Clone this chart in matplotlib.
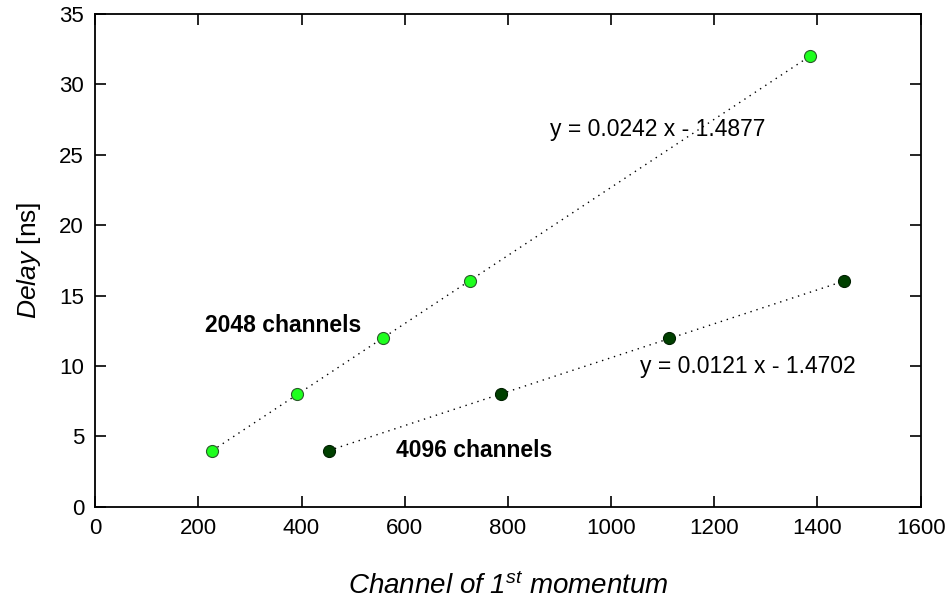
import numpy as np
import matplotlib.pyplot as plt

plt.rcParams['font.family'] = ['Liberation Sans', 'DejaVu Sans']
plt.rcParams['mathtext.fontset'] = 'custom'
plt.rcParams['mathtext.it'] = 'Liberation Sans:italic'
plt.rcParams['mathtext.rm'] = 'Liberation Sans:italic'

# Data
ch_2048 = [227, 392, 557, 726, 1385]
delay_2048 = [4, 8, 12, 16, 32]
ch_4096 = [453, 787, 1113, 1451]
delay_4096 = [4, 8, 12, 16]

fig, ax = plt.subplots(figsize=(9.52, 6.02), dpi=100)
fig.subplots_adjust(left=0.1, right=0.967, top=0.977, bottom=0.158)

# dotted linear trend lines
for xs, ys in [(ch_2048, delay_2048), (ch_4096, delay_4096)]:
    k, b = np.polyfit(xs, ys, 1)
    xl = np.array([min(xs), max(xs)])
    ax.plot(xl, k*xl + b, color='black', ls=(0, (1, 3.5)), lw=1.0, zorder=2)

ax.scatter(ch_2048, delay_2048, s=75, c='#1eff1e', edgecolors='#2a5a2a', linewidths=0.8, zorder=3)
ax.scatter(ch_4096, delay_4096, s=75, c='#004000', edgecolors='#002000', linewidths=0.8, zorder=3)

ax.text(882, 26.8, 'y = 0.0242 x - 1.4877', fontsize=16.5, va='center')
ax.text(1056, 10.0, 'y = 0.0121 x - 1.4702', fontsize=16.5, va='center')
ax.text(213, 12.85, '2048 channels', fontsize=16.5, fontweight='bold', va='center')
ax.text(583, 4.0, '4096 channels', fontsize=16.5, fontweight='bold', va='center')

ax.set_xlim(0, 1600)
ax.set_ylim(0, 35)
ax.set_xticks(np.arange(0, 1601, 200))
ax.set_yticks(np.arange(0, 36, 5))
ax.tick_params(direction='in', top=True, right=True, length=8, width=1.2,
               labelsize=16, pad=8)
for sp in ax.spines.values():
    sp.set_linewidth(1.3)

ax.set_xlabel(r'$\mathit{Channel\ of\ 1^{st}\ momentum}$', fontsize=20, labelpad=24)
ax.set_ylabel(r'$\mathit{Delay}$ [ns]', fontsize=19, labelpad=12)

plt.savefig('out.png')
